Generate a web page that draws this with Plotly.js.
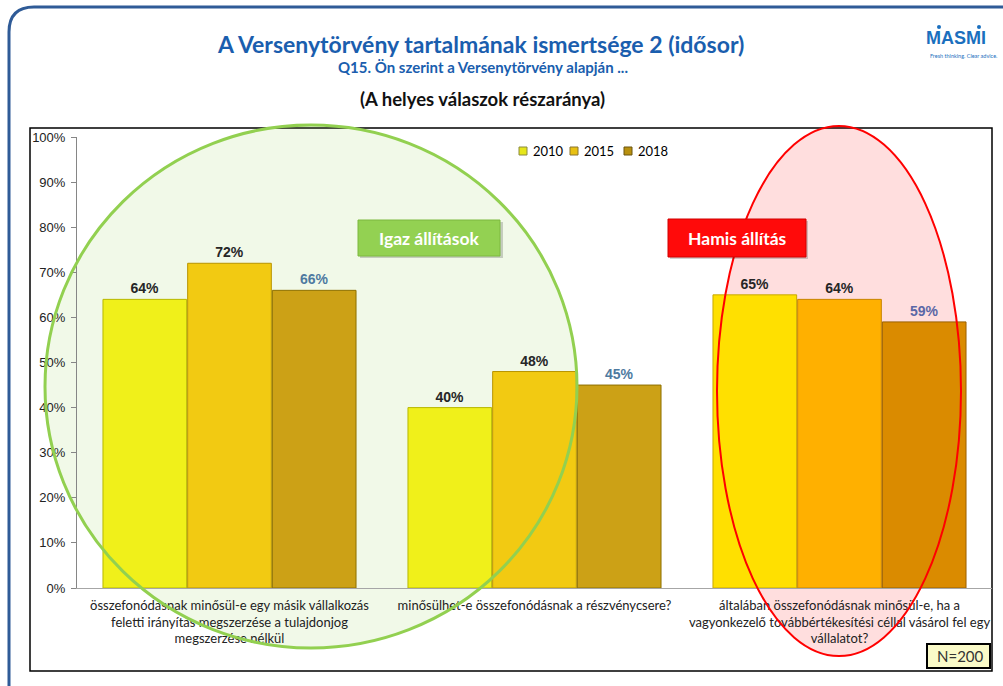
<!DOCTYPE html>
<html><head><meta charset="utf-8">
<script src="https://cdn.plot.ly/plotly-3.0.1.min.js"></script>
<style>html,body{margin:0;padding:0;background:#fff;} #chart{width:1003px;height:686px;}</style>
</head><body><div id="chart"></div>
<script>
// ---- data ----
const categories = [
  'összefonódásnak minősül-e egy másik vállalkozás<br>feletti irányítás megszerzése a tulajdonjog<br>megszerzése nélkül',
  'minősülhet-e összefonódásnak a részvénycsere?',
  'általában összefonódásnak minősül-e, ha a<br>vagyonkezelő továbbértékesítési céllal vásárol fel egy<br>vállalatot?'
];
const seriesNames = ['2010', '2015', '2018'];
const values2010 = [64, 40, 65];
const values2015 = [72, 48, 64];
const values2018 = [66, 45, 59];
const yTickVals = [0, 10, 20, 30, 40, 50, 60, 70, 80, 90, 100];
const yTickText = ['0%', '10%', '20%', '30%', '40%', '50%', '60%', '70%', '80%', '90%', '100%'];
const titleText = 'A Versenytörvény tartalmának ismertsége 2 (idősor)';
const subtitleText = 'Q15. Ön szerint a Versenytörvény alapján ...';
const noteText = '(A helyes válaszok részaránya)';
const trueLabel = 'Igaz állítások';
const falseLabel = 'Hamis állítás';
const sampleText = 'N=200';

// ---- styles ----
const colors2010 = ['#F0F01A', '#F0F01A', '#FFE000'];
const colors2015 = ['#F2CA12', '#F2CA12', '#FFB000'];
const colors2018 = ['#CCA116', '#CCA116', '#DA8B00'];
const lines2010 = ['#B8B800', '#B8B800', '#C8A800'];
const lines2015 = ['#B89400', '#B89400', '#C88400'];
const lines2018 = ['#8E7000', '#8E7000', '#9A6000'];
const legendColors = ['#E6E61A', '#E8C012', '#B8900E'];
const legendLines = ['#8A8A40', '#8A7430', '#6A5410'];
const labelDark = '#262626';
const label2018 = ['#4E7AA0', '#4E7AA0', '#5B67A6'];

// pixel -> paper helpers (plot area: x 77..992, y 137..588)
const L = 77, R = 992, T = 137, B = 588;
const X = px => (px - L) / (R - L);
const Y = py => (B - py) / (B - T);

function barTrace(name, vals, colors, lines, textColors) {
  return {
    type: 'bar', name: name, x: categories, y: vals,
    marker: {color: colors, line: {color: lines, width: 1}},
    text: vals.map(v => v + '%'), textposition: 'outside',
    textfont: {family: 'Liberation Sans, Arial, sans-serif', size: 14, weight: 700, color: textColors},
    cliponaxis: false, hoverinfo: 'skip'
  };
}

const data = [
  barTrace(seriesNames[0], values2010, colors2010, lines2010, labelDark),
  barTrace(seriesNames[1], values2015, colors2015, lines2015, labelDark),
  barTrace(seriesNames[2], values2018, colors2018, lines2018, label2018)
];

const shapes = [
  // chart box
  {type: 'rect', xref: 'paper', yref: 'paper', x0: X(30), x1: X(992), y0: Y(671), y1: Y(128),
   line: {color: '#000', width: 1.5}, fillcolor: '#fff', layer: 'below'},
  // ellipse fills
  {type: 'circle', xref: 'paper', yref: 'paper', x0: X(45), x1: X(577), y0: Y(648), y1: Y(125),
   line: {width: 0}, fillcolor: 'rgba(146,208,80,0.13)', layer: 'below'},
  {type: 'circle', xref: 'paper', yref: 'paper', x0: X(717), x1: X(961), y0: Y(656), y1: Y(126),
   line: {width: 0}, fillcolor: 'rgba(255,0,0,0.13)', layer: 'below'},
  // ellipse outlines
  {type: 'circle', xref: 'paper', yref: 'paper', x0: X(45), x1: X(577), y0: Y(648), y1: Y(125),
   line: {color: '#92D050', width: 3}, fillcolor: 'rgba(0,0,0,0)', layer: 'above'},
  {type: 'circle', xref: 'paper', yref: 'paper', x0: X(717), x1: X(961), y0: Y(656), y1: Y(126),
   line: {color: '#FF0000', width: 2}, fillcolor: 'rgba(0,0,0,0)', layer: 'above'},
  // label boxes (shadow + box)
  {type: 'rect', xref: 'paper', yref: 'paper', x0: X(360), x1: X(503), y0: Y(258), y1: Y(222),
   line: {width: 0}, fillcolor: 'rgba(0,0,0,0.18)', layer: 'above'},
  {type: 'rect', xref: 'paper', yref: 'paper', x0: X(358), x1: X(500), y0: Y(256), y1: Y(220),
   line: {color: '#7DB83F', width: 1}, fillcolor: '#93D152', layer: 'above'},
  {type: 'rect', xref: 'paper', yref: 'paper', x0: X(670), x1: X(808), y0: Y(259), y1: Y(221),
   line: {width: 0}, fillcolor: 'rgba(0,0,0,0.18)', layer: 'above'},
  {type: 'rect', xref: 'paper', yref: 'paper', x0: X(668), x1: X(806), y0: Y(257), y1: Y(219),
   line: {color: '#D00000', width: 1}, fillcolor: '#FF0A0A', layer: 'above'},
  // N=200 box
  {type: 'rect', xref: 'paper', yref: 'paper', x0: X(927), x1: X(990), y0: Y(668), y1: Y(644),
   line: {color: '#000', width: 2}, fillcolor: '#FAFAC8', layer: 'above'},
  // logo dots
  {type: 'circle', xref: 'paper', yref: 'paper', x0: X(937), x1: X(941), y0: Y(29), y1: Y(25),
   line: {width: 0}, fillcolor: '#1B6FBE', layer: 'above'},
  {type: 'circle', xref: 'paper', yref: 'paper', x0: X(977), x1: X(981), y0: Y(29), y1: Y(25),
   line: {width: 0}, fillcolor: '#1B6FBE', layer: 'above'},
  // outer rounded frame
  {type: 'path', xref: 'paper', yref: 'paper', layer: 'below',
   path: `M ${X(9)},${Y(730)} L ${X(9)},${Y(32)} Q ${X(9)},${Y(7)} ${X(34)},${Y(7)} L ${X(1030)},${Y(7)}`,
   line: {color: '#2F5B97', width: 3}, fillcolor: 'rgba(0,0,0,0)'}
];

const calibri = 'Lato, "Open Sans", sans-serif';
const annotations = [
  {xref: 'paper', yref: 'paper', x: X(480), y: Y(44), text: '<b>' + titleText + '</b>', showarrow: false,
   font: {family: calibri, size: 23, color: '#1A5EAE'}, xanchor: 'center', yanchor: 'middle'},
  {xref: 'paper', yref: 'paper', x: X(483), y: Y(67), text: '<b>' + subtitleText + '</b>', showarrow: false,
   font: {family: calibri, size: 15, color: '#1A5EAE'}, xanchor: 'center', yanchor: 'middle'},
  {xref: 'paper', yref: 'paper', x: X(482), y: Y(99), text: '<b>' + noteText + '</b>', showarrow: false,
   font: {family: calibri, size: 18.5, color: '#111'}, xanchor: 'center', yanchor: 'middle'},
  {xref: 'paper', yref: 'paper', x: X(429), y: Y(238), text: '<b>' + trueLabel + '</b>', showarrow: false,
   font: {family: calibri, size: 17.5, color: '#fff'}, xanchor: 'center', yanchor: 'middle'},
  {xref: 'paper', yref: 'paper', x: X(737), y: Y(238), text: '<b>' + falseLabel + '</b>', showarrow: false,
   font: {family: calibri, size: 17.5, color: '#fff'}, xanchor: 'center', yanchor: 'middle'},
  {xref: 'paper', yref: 'paper', x: X(960), y: Y(656), text: sampleText, showarrow: false,
   font: {family: calibri, size: 15, color: '#333'}, xanchor: 'center', yanchor: 'middle'},
  {xref: 'paper', yref: 'paper', x: X(956), y: Y(38), text: '<b>MASMI</b>', showarrow: false,
   font: {family: '"Liberation Sans", Arial, sans-serif', size: 18, color: '#1B6FBE'},
   xanchor: 'center', yanchor: 'middle'},
  {xref: 'paper', yref: 'paper', x: X(963), y: Y(56), text: 'Fresh thinking. Clear advice.', showarrow: false,
   font: {family: calibri, size: 5.5, color: '#1B6FBE'}, xanchor: 'center', yanchor: 'middle'}
];

// custom compact legend (symbol + series name)
const legendSymbolX = [519, 570, 624];
seriesNames.forEach((name, i) => {
  const sx = legendSymbolX[i];
  shapes.push({type: 'rect', xref: 'paper', yref: 'paper', x0: X(sx), x1: X(sx + 8), y0: Y(155), y1: Y(147),
    line: {color: legendLines[i], width: 1}, fillcolor: legendColors[i], layer: 'above'});
  annotations.push({xref: 'paper', yref: 'paper', x: X(sx + 12), y: Y(151), text: name, showarrow: false,
    font: {family: calibri, size: 13, color: '#000'}, xanchor: 'left', yanchor: 'middle'});
});

const layout = {
  width: 1003, height: 686,
  margin: {l: L, r: 1003 - R, t: T, b: 686 - B, pad: 0},
  paper_bgcolor: '#fff', plot_bgcolor: 'rgba(0,0,0,0)',
  barmode: 'group', bargap: 0.167, bargroupgap: 0.012,
  showlegend: false,
  xaxis: {type: 'category', range: [-0.5, 2.5], showline: true, linecolor: '#A6A6A6', linewidth: 1,
    ticks: '', showgrid: false, zeroline: false, fixedrange: true, ticklabelstandoff: 5,
    tickfont: {family: calibri, size: 13, color: '#222'}},
  yaxis: {range: [0, 100], tickvals: yTickVals, ticktext: yTickText, ticks: 'outside', ticklen: 5,
    tickcolor: '#868686', showline: true, linecolor: '#868686', linewidth: 1, showgrid: false,
    zeroline: false, fixedrange: true, ticklabelstandoff: 3,
    tickfont: {family: 'Liberation Sans, Arial, sans-serif', size: 13, color: '#222'}},
  shapes: shapes, annotations: annotations
};

Plotly.newPlot('chart', data, layout, {staticPlot: true, displayModeBar: false});
</script></body></html>
